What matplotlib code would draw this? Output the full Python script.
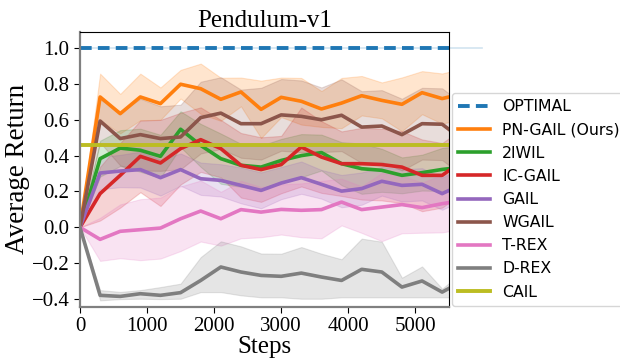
import numpy as np
import matplotlib
matplotlib.use("Agg")
import matplotlib.pyplot as plt

plt.rcParams['font.family'] = 'serif'
plt.rcParams['font.serif'] = ['Liberation Serif', 'DejaVu Serif']
plt.rcParams['axes.unicode_minus'] = True

# training steps (last point lies past the visible range, clipped by xlim)
steps = [0, 300, 600, 900, 1200, 1500, 1800, 2100, 2400, 2700, 3000,
         3300, 3600, 3900, 4200, 4500, 4800, 5100, 5400, 5700]

optimal = 1.0
cail = 0.46

pn_gail = [0, 0.727, 0.634, 0.727, 0.69, 0.798, 0.773, 0.714, 0.755, 0.658, 0.725,
           0.703, 0.66, 0.693, 0.734, 0.708, 0.686, 0.751, 0.718, 0.745]
pn_gail_sd = [0, 0.13, 0.11, 0.13, 0.09, 0.08, 0.14, 0.12, 0.08, 0.16, 0.11,
              0.13, 0.10, 0.14, 0.11, 0.10, 0.15, 0.12, 0.14, 0.14]

iwil = [0, 0.383, 0.442, 0.43, 0.396, 0.547, 0.457, 0.383, 0.346, 0.336, 0.373,
        0.40, 0.417, 0.355, 0.327, 0.318, 0.29, 0.305, 0.323, 0.335]
iwil_sd = [0, 0.10, 0.10, 0.12, 0.12, 0.10, 0.12, 0.14, 0.12, 0.12, 0.12,
           0.12, 0.10, 0.12, 0.14, 0.12, 0.10, 0.10, 0.12, 0.12]

ic_gail = [0, 0.188, 0.29, 0.396, 0.359, 0.439, 0.489, 0.439, 0.346, 0.322, 0.35,
           0.448, 0.392, 0.355, 0.355, 0.35, 0.336, 0.29, 0.29, 0.37]
ic_gail_sd = [0, 0.15, 0.18, 0.20, 0.24, 0.20, 0.18, 0.16, 0.18, 0.18, 0.16,
              0.22, 0.20, 0.18, 0.20, 0.20, 0.20, 0.20, 0.18, 0.18]

gail = [0, 0.303, 0.314, 0.322, 0.277, 0.322, 0.271, 0.262, 0.234, 0.206, 0.247,
        0.277, 0.24, 0.202, 0.216, 0.257, 0.234, 0.24, 0.188, 0.24]
gail_sd = [0, 0.09, 0.09, 0.10, 0.10, 0.09, 0.09, 0.09, 0.10, 0.10, 0.09,
           0.09, 0.08, 0.09, 0.09, 0.08, 0.09, 0.09, 0.09, 0.09]

wgail = [0, 0.593, 0.495, 0.517, 0.495, 0.504, 0.612, 0.637, 0.578, 0.578, 0.627,
         0.619, 0.60, 0.625, 0.559, 0.565, 0.517, 0.578, 0.575, 0.49]
wgail_sd = [0, 0.12, 0.15, 0.20, 0.18, 0.18, 0.20, 0.20, 0.19, 0.20, 0.20,
            0.20, 0.18, 0.20, 0.20, 0.20, 0.20, 0.20, 0.20, 0.20]

t_rex = [0, -0.067, -0.022, -0.013, -0.004, 0.048, 0.091, 0.048, 0.099, 0.085, 0.10,
         0.095, 0.099, 0.141, 0.099, 0.113, 0.127, 0.11, 0.132, 0.15]
t_rex_sd = [0, 0.12, 0.15, 0.17, 0.17, 0.18, 0.17, 0.15, 0.16, 0.14, 0.14,
            0.15, 0.16, 0.13, 0.13, 0.19, 0.16, 0.14, 0.16, 0.16]

d_rex = [0, -0.379, -0.385, -0.37, -0.379, -0.364, -0.296, -0.221, -0.249, -0.268, -0.273,
         -0.255, -0.277, -0.296, -0.234, -0.249, -0.333, -0.299, -0.361, -0.30]
d_rex_lo = [0, -0.407, -0.40, -0.398, -0.40, -0.398, -0.361, -0.361, -0.379, -0.39, -0.39,
            -0.398, -0.398, -0.39, -0.39, -0.39, -0.39, -0.39, -0.39, -0.39]
d_rex_hi = [0, -0.35, -0.36, -0.35, -0.333, -0.314, -0.166, -0.078, -0.106, -0.146, -0.147,
            -0.11, -0.147, -0.178, -0.063, -0.08, -0.281, -0.218, -0.342, -0.25]

fig = plt.figure(figsize=(6.2, 3.58), dpi=100)
ax = fig.add_axes([0.129, 0.143, 0.595, 0.768])

x = np.array(steps)
series = [
    ('PN-GAIL (Ours)', pn_gail, pn_gail_sd, '#ff7f0e'),
    ('2IWIL', iwil, iwil_sd, '#2ca02c'),
    ('IC-GAIL', ic_gail, ic_gail_sd, '#d62728'),
    ('GAIL', gail, gail_sd, '#9467bd'),
    ('WGAIL', wgail, wgail_sd, '#8c564b'),
    ('T-REX', t_rex, t_rex_sd, '#e377c2'),
]

# optimal line with a faint band that runs past the axes
ax.plot([0, 6000], [optimal, optimal], color='#1f77b4', alpha=0.2, lw=1.2, clip_on=False)
ax.plot([0, 6000], [optimal, optimal], color='#1f77b4', ls='--', lw=2.8, dashes=(3, 1.6),
        label='OPTIMAL')

for name, m, sd, c in series:
    m = np.array(m); sd = np.array(sd)
    ax.fill_between(x, m - sd, m + sd, color=c, alpha=0.2, lw=0.8)
ax.fill_between(x, d_rex_lo, d_rex_hi, color='#7f7f7f', alpha=0.2, lw=0.8)

for name, m, sd, c in series:
    ax.plot(x, m, color=c, lw=2.6, label=name)
ax.plot(x, d_rex, color='#7f7f7f', lw=2.6, label='D-REX')
ax.plot([0, 6000], [cail, cail], color='#bcbd22', lw=2.8, label='CAIL')

ax.set_xlim(0, 5500)
ax.set_ylim(-0.443, 1.09)
ax.set_xticks([0, 1000, 2000, 3000, 4000, 5000])
ax.set_yticks([-0.4, -0.2, 0.0, 0.2, 0.4, 0.6, 0.8, 1.0])
ax.set_yticklabels(['\u22120.4', '\u22120.2', '0.0', '0.2', '0.4', '0.6', '0.8', '1.0'])
ax.tick_params(labelsize=15, length=4)
for s in ['left', 'bottom']:
    ax.spines[s].set_color('#808080')
    ax.spines[s].set_linewidth(1.6)

ax.set_title('Pendulum-v1', fontsize=18, pad=3)
ax.set_xlabel('Steps', fontsize=18, labelpad=0)
ax.set_ylabel('Average Return', fontsize=19.5, labelpad=1)

ax.legend(loc='upper left', bbox_to_anchor=(0.729, 0.74), bbox_transform=fig.transFigure,
          prop={'family': 'DejaVu Sans', 'size': 11.3}, frameon=True,
          borderaxespad=0, labelspacing=0.52)

fig.savefig('out.png', dpi=100)
